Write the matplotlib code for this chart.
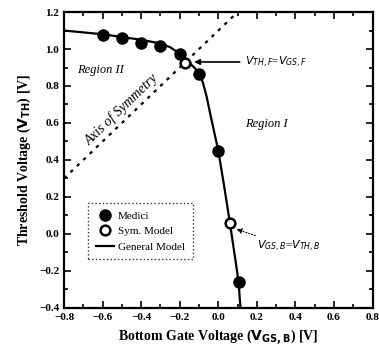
import matplotlib.pyplot as plt
from matplotlib.ticker import MultipleLocator

# General model curve
model_vgs = [-0.8, -0.7, -0.6, -0.5, -0.4, -0.3, -0.25, -0.2, -0.15, -0.12, -0.1,
             -0.08, -0.06, -0.04, 0.0, 0.03, 0.06, 0.09, 0.105, 0.115]
model_vth = [1.10, 1.09, 1.08, 1.065, 1.05, 1.03, 1.01, 0.975, 0.925, 0.895, 0.865,
             0.82, 0.74, 0.64, 0.45, 0.26, 0.06, -0.15, -0.26, -0.40]

# Medici simulation points
medici_vgs = [-0.6, -0.5, -0.4, -0.3, -0.2, -0.1, 0.0, 0.105]
medici_vth = [1.075, 1.06, 1.035, 1.015, 0.975, 0.865, 0.45, -0.26]

# Symmetric model points
sym_vgs = [-0.175, 0.06]
sym_vth = [0.925, 0.06]

# Axis of symmetry: V_TH = V_GS + 1.1
axis_vgs = [-0.8, 0.1]
axis_vth = [0.3, 1.2]

plt.rcParams['font.family'] = ['Liberation Serif', 'DejaVu Serif']

fig = plt.figure(figsize=(3.79, 3.55), dpi=100)
ax = fig.add_axes([0.169, 0.133, 0.814, 0.833])

ax.plot(axis_vgs, axis_vth, color='black', linestyle=(0, (1.5, 2.5)), linewidth=1.6)
ax.plot(model_vgs, model_vth, color='black', linewidth=1.6, label='General Model')
ax.plot(medici_vgs, medici_vth, 'o', color='black', markersize=8, label='Medici')
ax.plot(sym_vgs, sym_vth, 'o', markerfacecolor='white', markeredgecolor='black',
        markeredgewidth=1.8, markersize=7, label='Sym. Model')

ax.set_xlim(-0.8, 0.8)
ax.set_ylim(-0.4, 1.2)
ax.xaxis.set_major_locator(MultipleLocator(0.2))
ax.xaxis.set_minor_locator(MultipleLocator(0.1))
ax.yaxis.set_major_locator(MultipleLocator(0.2))
ax.yaxis.set_minor_locator(MultipleLocator(0.1))
ax.tick_params(which='both', direction='in', top=True, right=True, width=1.2)
ax.tick_params(which='major', length=5, labelsize=8)
ax.tick_params(which='minor', length=3)
for lab in ax.get_xticklabels() + ax.get_yticklabels():
    lab.set_fontweight('bold')
for s in ax.spines.values():
    s.set_linewidth(1.6)

ax.set_xlabel('Bottom Gate Voltage ($\\mathbf{V_{GS,B}}$) [V]', fontsize=10, fontweight='bold')
ax.set_ylabel('Threshold Voltage ($\\mathbf{V_{TH}}$) [V]', fontsize=10, fontweight='bold')

ax.text(-0.73, 0.87, 'Region II', fontsize=9, style='italic')
ax.text(0.14, 0.58, 'Region I', fontsize=9, style='italic')
ax.text(-0.5, 0.67, 'Axis of Symmetry', fontsize=10, style='italic',
        rotation=44, ha='center', va='center')

ax.annotate('$V_{TH,F}$=$V_{GS,F}$', xy=(-0.14, 0.93), xytext=(0.14, 0.93),
            fontsize=8, va='center',
            arrowprops=dict(arrowstyle='-|>', color='black', lw=1.2))
ax.annotate('$V_{GS,B}$=$V_{TH,B}$', xy=(0.08, 0.03), xytext=(0.2, -0.07),
            fontsize=8, va='center',
            arrowprops=dict(arrowstyle='-|>', color='black', lw=0.8, linestyle=':'))

leg = ax.legend(handles=[ax.lines[2], ax.lines[3], ax.lines[1]],
                loc='lower left', bbox_to_anchor=(0.06, 0.145), fontsize=8,
                frameon=True, fancybox=False, handlelength=1.6, borderpad=0.7,
                labelspacing=0.5, handletextpad=0.4)
leg.get_frame().set_edgecolor('black')
leg.get_frame().set_linestyle(':')
leg.get_frame().set_linewidth(1.0)

fig.savefig('out.png', dpi=100)
